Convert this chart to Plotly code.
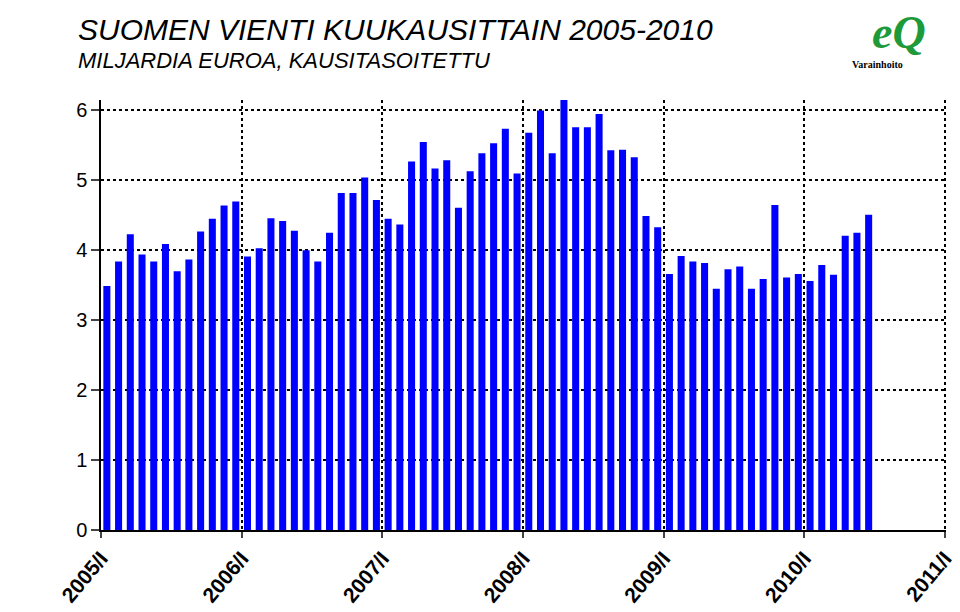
import plotly.graph_objects as go

values = [3.49,3.84,4.23,3.94,3.84,4.09,3.70,3.87,4.27,4.45,4.64,4.70,
          3.91,4.03,4.46,4.42,4.28,4.00,3.84,4.25,4.82,4.82,5.04,4.72,
          4.45,4.37,5.27,5.55,5.17,5.29,4.61,5.13,5.39,5.53,5.74,5.10,
          5.68,6.00,5.39,6.15,5.76,5.76,5.95,5.43,5.44,5.33,4.49,4.33,
          3.66,3.92,3.84,3.82,3.45,3.73,3.77,3.45,3.59,4.65,3.61,3.66,
          3.56,3.79,3.65,4.21,4.25,4.51]
months = list(range(len(values)))
tick_labels = ["<b>2005/I</b>","<b>2006/I</b>","<b>2007/I</b>","<b>2008/I</b>","<b>2009/I</b>","<b>2010/I</b>","<b>2011/I</b>"]
tick_pos = [-0.5 + 12*i for i in range(len(tick_labels))]

L, R, T, B = 93, 13, 92, 90
fig = go.Figure(go.Bar(x=months, y=values, marker_color="#0000FF", marker_line_width=0, width=0.6))
fig.update_layout(
    width=960, height=612, paper_bgcolor="white", plot_bgcolor="white",
    margin=dict(l=L, r=R, t=T, b=B), showlegend=False,
    font=dict(family="Liberation Sans, Arial", color="black"),
    xaxis=dict(range=[-0.5, 71.6], tickvals=tick_pos, ticktext=tick_labels,
               tickangle=-50, tickfont=dict(size=21),
               showgrid=True, gridcolor="black", griddash="dot", gridwidth=2,
               ticks="outside", ticklen=6, tickwidth=1.5, showline=True, linecolor="black", linewidth=1.5,
               zeroline=False),
    yaxis=dict(range=[0, 6.15], tickvals=[0,1,2,3,4,5,6], tickfont=dict(size=20),
               showgrid=True, gridcolor="black", griddash="dot", gridwidth=2,
               ticks="outside", ticklen=8, tickwidth=1.5, showline=True, linecolor="black", linewidth=1.5,
               zeroline=False),
)
anns = [
    ("<i>SUOMEN VIENTI KUUKAUSITTAIN 2005-2010</i>", 68, 22, 30, "black", "Liberation Sans", "left"),
    ("<i>MILJARDIA EUROA, KAUSITASOITETTU</i>", 68, 52, 22, "black", "Liberation Sans", "left"),
    ("<b><i>eQ</i></b>", 900, 24, 46, "#1E9A3A", "Liberation Serif", "center"),
    ("<b>Varainhoito</b>", 878, 56, 10, "black", "Liberation Serif", "center"),
]
for text, px, py, size, col, fam, xa in anns:
    fig.add_annotation(text=text, xref="paper", yref="paper",
                       x=(px - L) / (960 - L - R), y=1 + (T - py) / (612 - T - B),
                       showarrow=False, xanchor=xa, yanchor="middle",
                       font=dict(size=size, color=col, family=fam))
fig.write_html("out.html")
